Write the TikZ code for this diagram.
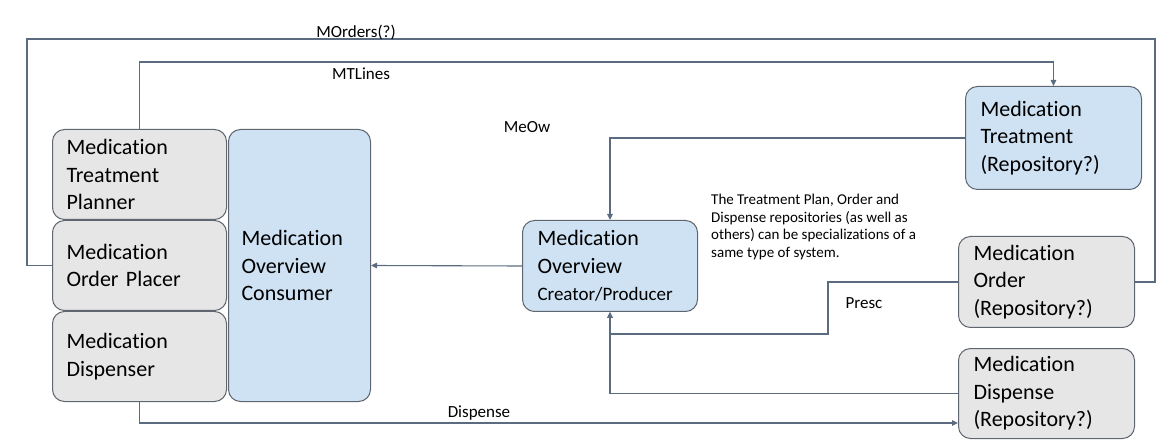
\documentclass[tikz,border=0pt]{standalone}
\usepackage{fontspec}
\setmainfont{Carlito}[Ligatures=NoCommon]
\usetikzlibrary{arrows.meta}
\definecolor{linecol}{HTML}{5B6B80}
\definecolor{bordercol}{HTML}{5F6670}
\definecolor{grayfill}{HTML}{E6E6E6}
\definecolor{bluefill}{HTML}{CFE2F3}
\tikzset{
  box/.style={draw=bordercol, line width=1pt, rounded corners=12pt, anchor=north west,
    align=left, inner ysep=0pt, font=\fontsize{22}{27.5}\selectfont},
  graybox/.style={box, fill=grayfill},
  bluebox/.style={box, fill=bluefill},
  conn/.style={draw=linecol, line width=1.1pt},
  arr/.style={conn, -{Triangle[length=6pt,width=5.5pt]}},
  lbl/.style={font=\fontsize{17}{20}\selectfont, inner sep=0pt},
}
\begin{document}
\begin{tikzpicture}[x=1pt,y=-1pt]
\useasboundingbox (0,0) rectangle (1170,446);
% boxes
\node[graybox, inner xsep=14pt, text width=146pt, minimum height=90pt] (planner) at (52,129) {Medication\\Treatment\\Planner};
\node[graybox, inner xsep=14pt, text width=146pt, minimum height=90pt] (placer) at (52,220) {Medication\\Order Placer};
\node[graybox, inner xsep=14pt, text width=146pt, minimum height=90pt] (dispenser) at (52,311) {Medication\\Dispenser};
\node[bluebox, inner xsep=13pt, text width=116pt, minimum height=272pt] (consumer) at (228,129) {Medication\\Overview\\Consumer};
\node[bluebox, inner xsep=15pt, text width=145pt, minimum height=91pt] (producer) at (522,220) {Medication\\Overview\\{\fontsize{19}{24}\selectfont Creator/Producer}};
\node[bluebox, inner xsep=15pt, text width=146pt, minimum height=103pt] (treatrepo) at (965,86) {Medication\\Treatment\\(Repository?)};
\node[graybox, inner xsep=15pt, text width=146pt, minimum height=91pt] (orderrepo) at (958,236) {Medication\\Order\\(Repository?)};
\node[graybox, inner xsep=15pt, text width=146pt, minimum height=90pt] (disprepo) at (958,348) {Medication\\Dispense\\(Repository?)};
% helper coordinates
\coordinate (mo1) at (27,39);
\coordinate (mo2) at (1155,39);
\coordinate (mt) at (0,62);
\coordinate (pr1) at (828,334);
\coordinate (dy) at (0,423);
% connectors
\draw[conn] (placer.west) -| (mo1) -- (mo2) |- (orderrepo.east);
\draw[arr] (planner.north) -- (planner.north |- mt) -| (treatrepo.north);
\draw[arr] (treatrepo.west) -| (producer.north);
\draw[arr] (producer.west) -- (consumer.east);
\draw[arr] (orderrepo.west) -| (pr1) -| (producer.south);
\draw[arr] (disprepo.west) -| (producer.south);
\draw[arr] (dispenser.south) |- (disprepo.west |- dy);
% labels
\node[lbl] (lmo) at (356,32) {MOrders(?)};
\node[lbl] (lmt) at (361,74) {MTLines};
\node[lbl] (lmeow) at (527,127) {MeOw};
\node[lbl] (lpresc) at (864,303) {Presc};
\node[lbl] (ldisp) at (479,413) {Dispense};
\node[anchor=north west, inner sep=0pt, align=left, font=\fontsize{15}{17.6}\selectfont] (note) at (711,194)
  {The Treatment Plan, Order and\\Dispense repositories (as well as\\others) can be specializations of a\\same type of system.};
\end{tikzpicture}
\end{document}
